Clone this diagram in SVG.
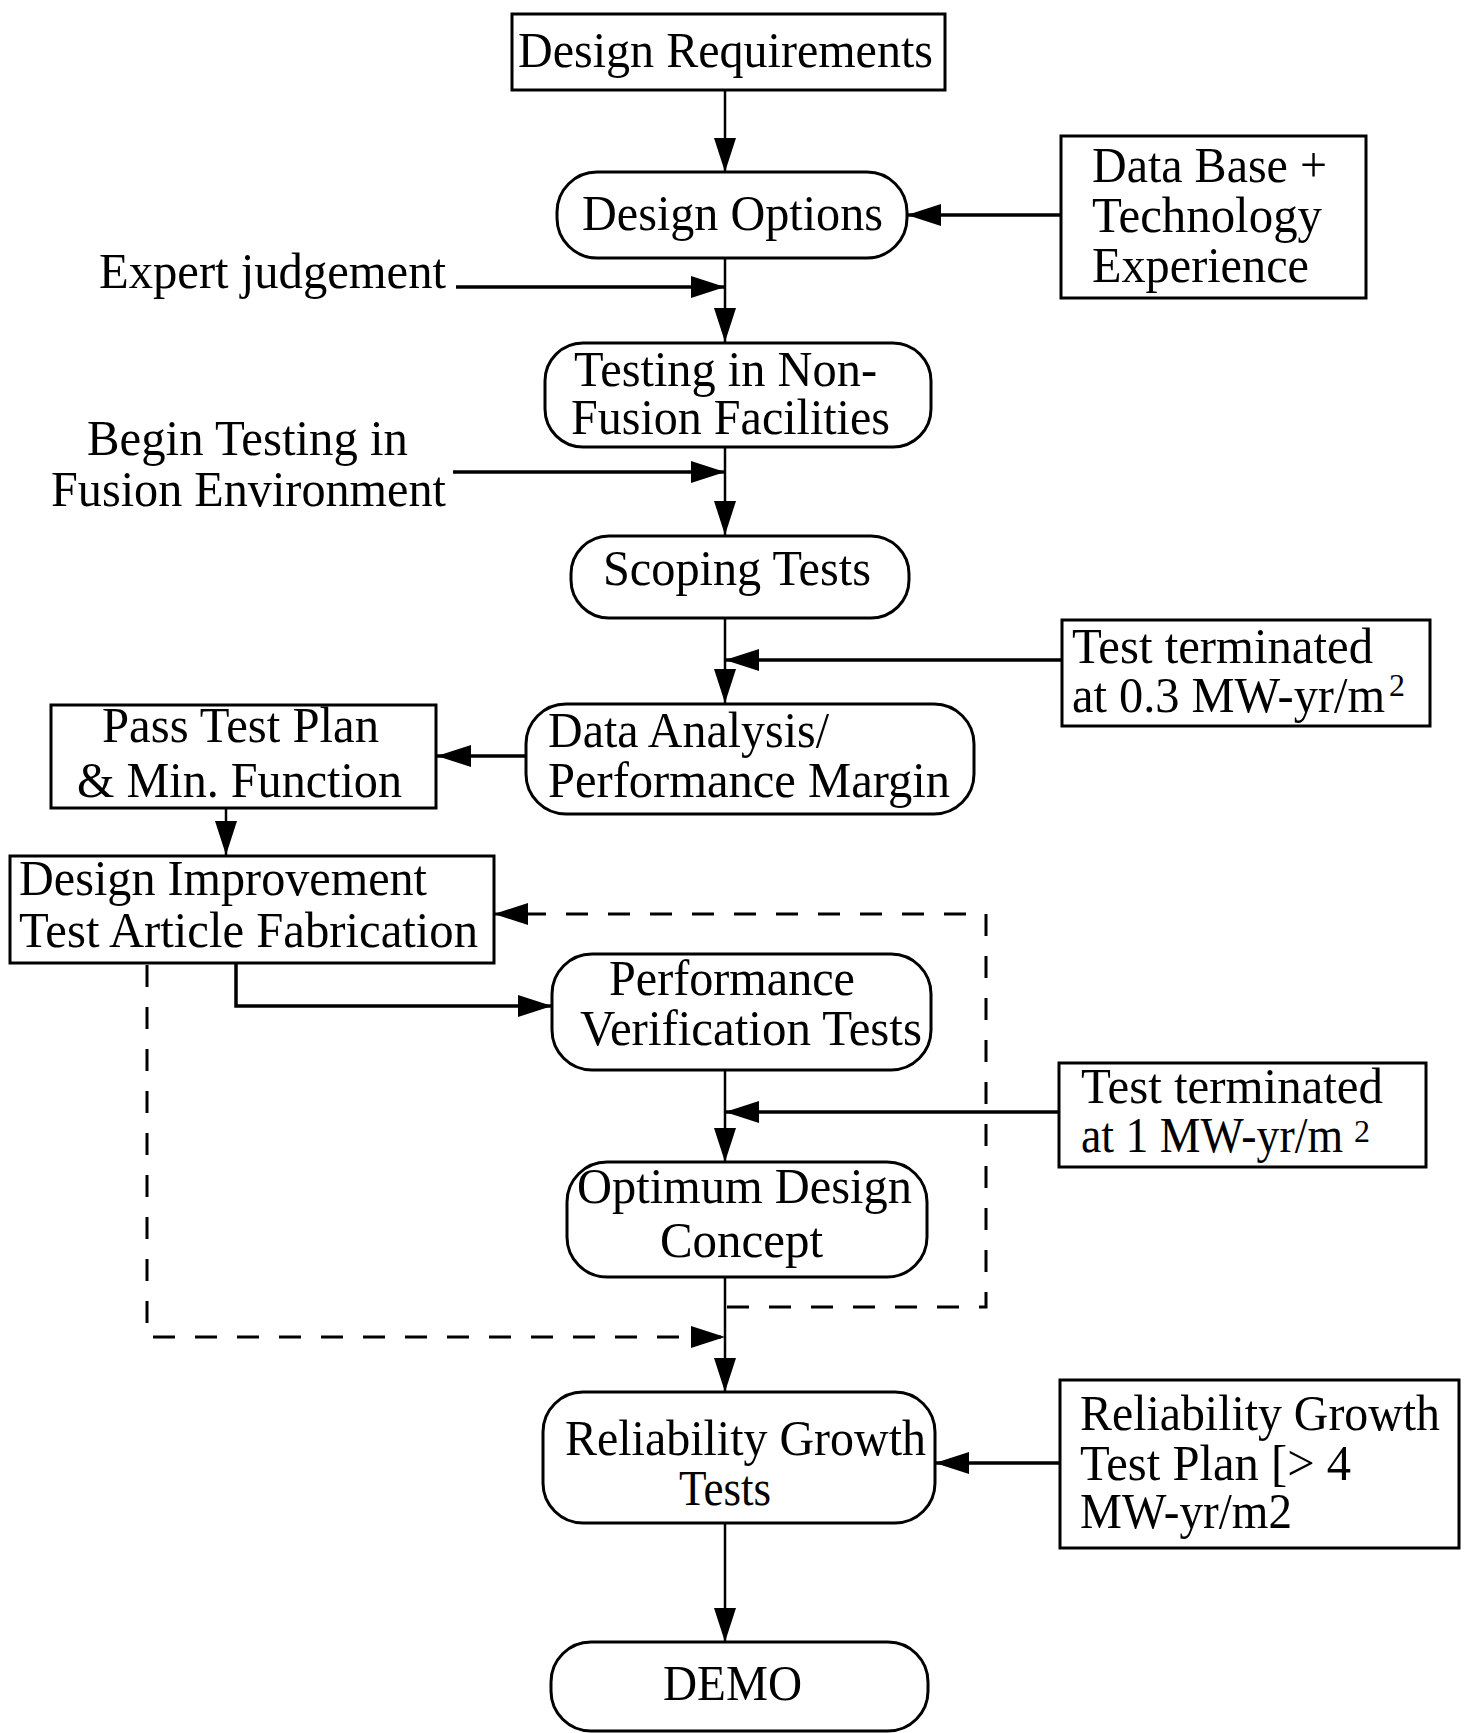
<svg xmlns="http://www.w3.org/2000/svg" width="1467" height="1733" viewBox="0 0 1467 1733">
<style>
.box{fill:#fff;stroke:#000;stroke-width:3}
.t{font-family:"Liberation Serif","Times New Roman",serif;font-size:50px;fill:#000}
.sup{font-family:"Liberation Serif","Times New Roman",serif;font-size:32px;fill:#000}
.c{fill:none;stroke:#000;stroke-width:2.5}
.h{fill:none;stroke:#000;stroke-width:3.5}
.d{fill:none;stroke:#000;stroke-width:3;stroke-dasharray:22 20}
</style>
<defs>
<marker id="ah" markerUnits="userSpaceOnUse" markerWidth="36" markerHeight="22" refX="34" refY="11" orient="auto">
<path d="M0,0 L34,11 L0,22 z" fill="#000"/>
</marker>
</defs>
<rect width="1467" height="1733" fill="#fff"/>
<g id="connectors">
<line class="c" x1="725" y1="90" x2="725" y2="172" marker-end="url(#ah)"/>
<line class="h" x1="1061" y1="215" x2="907" y2="215" marker-end="url(#ah)"/>
<line class="c" x1="725" y1="258" x2="725" y2="342" marker-end="url(#ah)"/>
<line class="h" x1="456" y1="287" x2="725" y2="287" marker-end="url(#ah)"/>
<line class="c" x1="725" y1="447" x2="725" y2="535" marker-end="url(#ah)"/>
<line class="h" x1="453" y1="472" x2="725" y2="472" marker-end="url(#ah)"/>
<line class="c" x1="725" y1="618" x2="725" y2="703" marker-end="url(#ah)"/>
<line class="h" x1="1062" y1="660" x2="725" y2="660" marker-end="url(#ah)"/>
<line class="h" x1="526" y1="756" x2="437" y2="756" marker-end="url(#ah)"/>
<line class="c" x1="226" y1="807" x2="226" y2="855" marker-end="url(#ah)"/>
<path class="h" d="M236,963 V1006 H552" marker-end="url(#ah)"/>
<line class="c" x1="725" y1="1070" x2="725" y2="1162" marker-end="url(#ah)"/>
<line class="h" x1="1059" y1="1112" x2="725" y2="1112" marker-end="url(#ah)"/>
<line class="c" x1="725" y1="1277" x2="725" y2="1392" marker-end="url(#ah)"/>
<path class="d" d="M727,1307 H986 V914 H494" marker-end="url(#ah)"/>
<path class="d" d="M147,965 V1337 H725" marker-end="url(#ah)"/>
<line class="h" x1="1061" y1="1463" x2="935" y2="1463" marker-end="url(#ah)"/>
<line class="c" x1="725" y1="1523" x2="725" y2="1642" marker-end="url(#ah)"/>
</g>
<g id="design-requirements">
<rect class="box" x="512" y="14" width="433" height="76"/>
<text class="t" x="518" y="67" textLength="415" lengthAdjust="spacingAndGlyphs">Design Requirements</text>
</g>
<g id="design-options">
<rect class="box" x="557" y="172" width="350" height="86" rx="40"/>
<text class="t" x="582" y="230" textLength="301" lengthAdjust="spacingAndGlyphs">Design Options</text>
</g>
<g id="data-base">
<rect class="box" x="1061" y="136" width="305" height="162"/>
<text class="t" x="1092" y="182" textLength="235" lengthAdjust="spacingAndGlyphs">Data Base +</text>
<text class="t" x="1092" y="232" textLength="230" lengthAdjust="spacingAndGlyphs">Technology</text>
<text class="t" x="1092" y="282" textLength="217" lengthAdjust="spacingAndGlyphs">Experience</text>
</g>
<g id="expert-judgement">
<text class="t" x="99" y="288" textLength="347" lengthAdjust="spacingAndGlyphs">Expert judgement</text>
</g>
<g id="testing-non-fusion">
<rect class="box" x="545" y="343" width="386" height="104" rx="38"/>
<text class="t" x="574" y="386" textLength="303" lengthAdjust="spacingAndGlyphs">Testing in Non-</text>
<text class="t" x="571" y="434" textLength="319" lengthAdjust="spacingAndGlyphs">Fusion Facilities</text>
</g>
<g id="begin-testing">
<text class="t" x="87" y="455" textLength="321" lengthAdjust="spacingAndGlyphs">Begin Testing in</text>
<text class="t" x="51" y="506" textLength="395" lengthAdjust="spacingAndGlyphs">Fusion Environment</text>
</g>
<g id="scoping-tests">
<rect class="box" x="571" y="536" width="338" height="82" rx="38"/>
<text class="t" x="603" y="585" textLength="268" lengthAdjust="spacingAndGlyphs">Scoping Tests</text>
</g>
<g id="test-terminated-1">
<rect class="box" x="1062" y="620" width="368" height="106"/>
<text class="t" x="1072" y="663" textLength="301" lengthAdjust="spacingAndGlyphs">Test terminated</text>
<text class="t" x="1072" y="712" textLength="313" lengthAdjust="spacingAndGlyphs">at 0.3 MW-yr/m</text>
<text class="sup" x="1389" y="696">2</text>
</g>
<g id="data-analysis">
<rect class="box" x="526" y="704" width="448" height="110" rx="40"/>
<text class="t" x="548" y="747" textLength="281" lengthAdjust="spacingAndGlyphs">Data Analysis/</text>
<text class="t" x="548" y="797" textLength="402" lengthAdjust="spacingAndGlyphs">Performance Margin</text>
</g>
<g id="pass-test-plan">
<rect class="box" x="51" y="705" width="385" height="103"/>
<text class="t" x="102" y="742" textLength="277" lengthAdjust="spacingAndGlyphs">Pass Test Plan</text>
<text class="t" x="77" y="797" textLength="325" lengthAdjust="spacingAndGlyphs">&amp; Min. Function</text>
</g>
<g id="design-improvement">
<rect class="box" x="10" y="856" width="484" height="107"/>
<text class="t" x="19" y="895" textLength="408" lengthAdjust="spacingAndGlyphs">Design Improvement</text>
<text class="t" x="19" y="947" textLength="459" lengthAdjust="spacingAndGlyphs">Test Article Fabrication</text>
</g>
<g id="performance-verification">
<rect class="box" x="552" y="954" width="379" height="116" rx="40"/>
<text class="t" x="609" y="995" textLength="246" lengthAdjust="spacingAndGlyphs">Performance</text>
<text class="t" x="580" y="1045" textLength="342" lengthAdjust="spacingAndGlyphs">Verification Tests</text>
</g>
<g id="test-terminated-2">
<rect class="box" x="1059" y="1063" width="367" height="104"/>
<text class="t" x="1081" y="1103" textLength="302" lengthAdjust="spacingAndGlyphs">Test terminated</text>
<text class="t" x="1081" y="1152" textLength="262" lengthAdjust="spacingAndGlyphs">at 1 MW-yr/m</text>
<text class="sup" x="1354" y="1142">2</text>
</g>
<g id="optimum-design">
<rect class="box" x="567" y="1162" width="360" height="115" rx="40"/>
<text class="t" x="577" y="1203" textLength="335" lengthAdjust="spacingAndGlyphs">Optimum Design</text>
<text class="t" x="660" y="1257" textLength="163" lengthAdjust="spacingAndGlyphs">Concept</text>
</g>
<g id="reliability-growth-tests">
<rect class="box" x="543" y="1392" width="392" height="131" rx="40"/>
<text class="t" x="565" y="1455" textLength="361" lengthAdjust="spacingAndGlyphs">Reliability Growth</text>
<text class="t" x="679" y="1505" textLength="92" lengthAdjust="spacingAndGlyphs">Tests</text>
</g>
<g id="reliability-growth-plan">
<rect class="box" x="1060" y="1380" width="399" height="168"/>
<text class="t" x="1080" y="1430" textLength="360" lengthAdjust="spacingAndGlyphs">Reliability Growth</text>
<text class="t" x="1080" y="1480" textLength="271" lengthAdjust="spacingAndGlyphs">Test Plan [&gt; 4</text>
<text class="t" x="1080" y="1528" textLength="212" lengthAdjust="spacingAndGlyphs">MW-yr/m2</text>
</g>
<g id="demo">
<rect class="box" x="551" y="1642" width="377" height="89" rx="40"/>
<text class="t" x="663" y="1700" textLength="139" lengthAdjust="spacingAndGlyphs">DEMO</text>
</g>
</svg>
